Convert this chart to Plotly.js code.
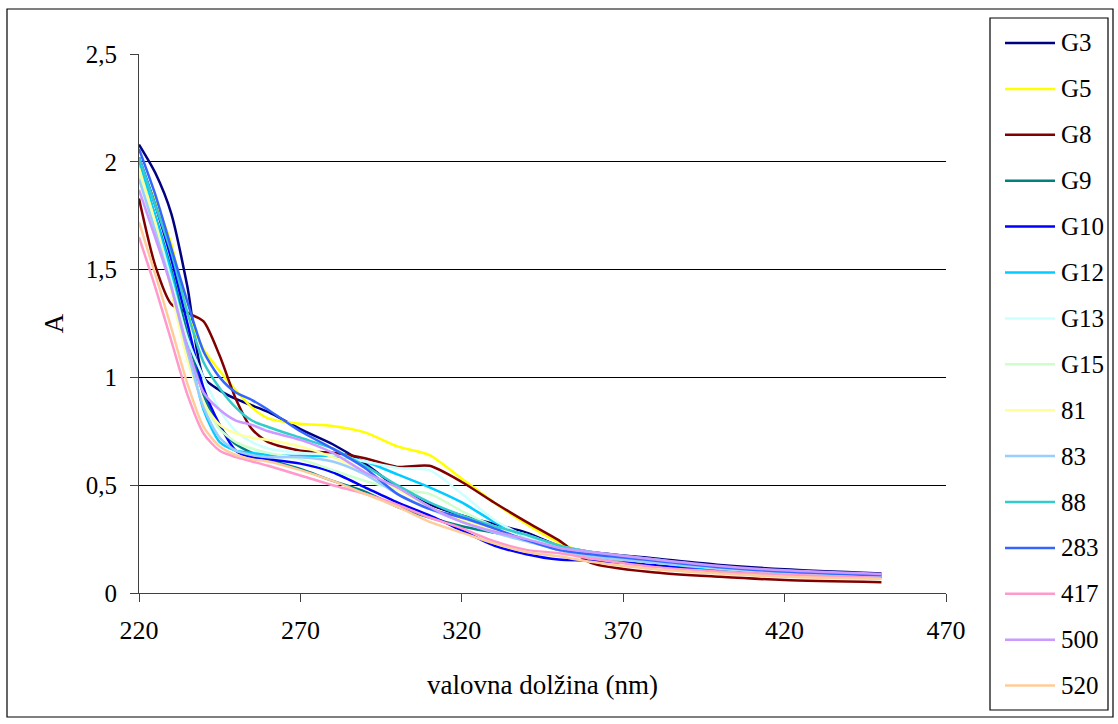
<!DOCTYPE html>
<html>
<head>
<meta charset="utf-8">
<script src="https://cdn.plot.ly/plotly-3.0.1.min.js"></script>
<style>
  html, body { margin: 0; padding: 0; background: #ffffff; }
  #chart { width: 1118px; height: 724px; }
</style>
</head>
<body>
<div id="chart"></div>
<script>
// Absorption spectra A(λ), 220–450 nm
const wavelength = [220, 225, 230, 235, 240, 245, 250, 255, 260, 270, 280, 290, 300, 310, 320, 330, 340, 350, 360, 380, 400, 420, 450];

const sampleNames = ["G3", "G5", "G8", "G9", "G10", "G12", "G13", "G15", "81", "83", "88", "283", "417", "500", "520"];
const sampleColors = ["#000080", "#FFFF00", "#800000", "#008080", "#0000FF", "#00CCFF", "#CCFFFF", "#CCFFCC", "#FFFF99", "#99CCFF", "#33CCCC", "#3366FF", "#FF99CC", "#CC99FF", "#FFCC99"];

const G3   = [2.08, 1.95, 1.76, 1.42, 1.00, 0.94, 0.90, 0.87, 0.84, 0.76, 0.69, 0.60, 0.49, 0.41, 0.36, 0.32, 0.28, 0.22, 0.19, 0.16, 0.13, 0.11, 0.09];
const G5   = [1.99, 1.82, 1.62, 1.30, 1.13, 1.03, 0.94, 0.86, 0.81, 0.785, 0.775, 0.745, 0.68, 0.64, 0.53, 0.42, 0.32, 0.235, 0.18, 0.14, 0.11, 0.09, 0.075];
const G8   = [1.83, 1.52, 1.34, 1.30, 1.26, 1.10, 0.90, 0.76, 0.70, 0.66, 0.65, 0.625, 0.585, 0.59, 0.515, 0.42, 0.33, 0.245, 0.14, 0.095, 0.075, 0.06, 0.05];
const G9   = [1.96, 1.75, 1.50, 1.20, 0.92, 0.77, 0.69, 0.65, 0.62, 0.575, 0.52, 0.47, 0.40, 0.35, 0.31, 0.28, 0.25, 0.20, 0.17, 0.135, 0.11, 0.09, 0.075];
const G10  = [2.02, 1.80, 1.55, 1.25, 0.95, 0.78, 0.66, 0.63, 0.62, 0.60, 0.56, 0.49, 0.42, 0.36, 0.29, 0.22, 0.18, 0.155, 0.15, 0.13, 0.10, 0.09, 0.075];
const G12  = [2.01, 1.75, 1.48, 1.15, 0.85, 0.70, 0.66, 0.65, 0.64, 0.635, 0.635, 0.61, 0.55, 0.49, 0.42, 0.33, 0.26, 0.21, 0.18, 0.14, 0.11, 0.095, 0.08];
const G13  = [1.95, 1.72, 1.45, 1.18, 1.00, 0.85, 0.75, 0.70, 0.67, 0.65, 0.64, 0.61, 0.58, 0.57, 0.46, 0.34, 0.26, 0.21, 0.18, 0.145, 0.115, 0.095, 0.08];
const G15  = [1.93, 1.70, 1.42, 1.10, 0.88, 0.76, 0.70, 0.67, 0.65, 0.62, 0.57, 0.52, 0.48, 0.46, 0.38, 0.31, 0.27, 0.22, 0.19, 0.15, 0.12, 0.10, 0.085];
const S81  = [1.97, 1.72, 1.40, 1.08, 0.88, 0.78, 0.74, 0.72, 0.71, 0.68, 0.63, 0.56, 0.48, 0.40, 0.34, 0.29, 0.25, 0.20, 0.17, 0.14, 0.115, 0.095, 0.08];
const S83  = [1.92, 1.68, 1.42, 1.12, 0.86, 0.72, 0.66, 0.64, 0.63, 0.63, 0.61, 0.55, 0.46, 0.39, 0.33, 0.28, 0.24, 0.20, 0.17, 0.14, 0.115, 0.095, 0.08];
const S88  = [2.02, 1.80, 1.58, 1.30, 1.07, 0.95, 0.86, 0.80, 0.77, 0.72, 0.67, 0.59, 0.50, 0.42, 0.36, 0.31, 0.27, 0.22, 0.19, 0.155, 0.12, 0.10, 0.085];
const S283 = [2.06, 1.85, 1.60, 1.35, 1.12, 1.00, 0.93, 0.895, 0.85, 0.75, 0.67, 0.58, 0.46, 0.39, 0.35, 0.30, 0.245, 0.20, 0.18, 0.15, 0.12, 0.10, 0.082];
const S417 = [1.65, 1.42, 1.17, 0.92, 0.74, 0.66, 0.63, 0.61, 0.59, 0.545, 0.50, 0.46, 0.41, 0.35, 0.30, 0.24, 0.20, 0.185, 0.16, 0.12, 0.10, 0.085, 0.07];
const S500 = [1.87, 1.65, 1.42, 1.14, 0.93, 0.85, 0.80, 0.78, 0.75, 0.71, 0.65, 0.56, 0.49, 0.40, 0.33, 0.285, 0.25, 0.21, 0.19, 0.155, 0.125, 0.105, 0.088];
const S520 = [1.72, 1.48, 1.23, 0.97, 0.77, 0.68, 0.64, 0.62, 0.61, 0.57, 0.52, 0.46, 0.40, 0.33, 0.28, 0.23, 0.19, 0.17, 0.145, 0.11, 0.09, 0.075, 0.065];

const sampleValues = [G3, G5, G8, G9, G10, G12, G13, G15, S81, S83, S88, S283, S417, S500, S520];

const xTicks = [220, 270, 320, 370, 420, 470];
const yTicks = [0, 0.5, 1, 1.5, 2, 2.5];

// Plot-area geometry in pixels (used for the legend box and frame)
const W = 1118, H = 724;
const M = { l: 139, r: 172, t: 54, b: 131 };
const plotW = W - M.l - M.r, plotH = H - M.t - M.b;
const px = v => (v - M.l) / plotW;
const py = v => (H - M.b - v) / plotH;

const FONT = "'Liberation Serif', 'DejaVu Serif', serif";

const traces = sampleNames.map((name, i) => ({
  x: wavelength,
  y: sampleValues[i],
  name: name,
  type: "scatter",
  mode: "lines",
  line: { color: sampleColors[i], width: 2.5, shape: "spline", smoothing: 0.7 },
  showlegend: false,
  hoverinfo: "x+y+name"
}));

// Legend drawn as shapes + annotations
const shapes = [
  // outer frame
  { type: "rect", xref: "paper", yref: "paper", x0: px(7), x1: px(1113), y0: py(717), y1: py(9),
    line: { color: "#000000", width: 1.2 }, fillcolor: "rgba(0,0,0,0)", layer: "below" },
  // legend box
  { type: "rect", xref: "paper", yref: "paper", x0: px(990), x1: px(1108), y0: py(710), y1: py(18),
    line: { color: "#000000", width: 1.2 }, fillcolor: "#ffffff" }
];
const annotations = [];
const legTop = 43, legStep = 45.9;
sampleNames.forEach((name, i) => {
  const yy = legTop + legStep * i;
  shapes.push({ type: "line", xref: "paper", yref: "paper", x0: px(1005), x1: px(1055), y0: py(yy), y1: py(yy),
    line: { color: sampleColors[i], width: 2.5 } });
  annotations.push({ xref: "paper", yref: "paper", x: px(1059), y: py(yy), text: name, showarrow: false,
    xanchor: "left", yanchor: "middle", font: { family: FONT, size: 25, color: "#000000" } });
});

const layout = {
  width: W, height: H,
  margin: M,
  paper_bgcolor: "#ffffff",
  plot_bgcolor: "#ffffff",
  separators: ", ",
  font: { family: FONT, size: 25, color: "#000000" },
  showlegend: false,
  xaxis: {
    range: [220, 470],
    tickvals: xTicks,
    ticks: "outside", ticklen: 8, tickcolor: "#404040", tickwidth: 1,
    ticklabelstandoff: 6,
    showline: true, linecolor: "#404040", linewidth: 1,
    showgrid: false, zeroline: false,
    tickfont: { family: FONT, size: 26, color: "#000000" },
    title: { text: "valovna dolžina (nm)", font: { family: FONT, size: 27, color: "#000000" }, standoff: 30 }
  },
  yaxis: {
    range: [0, 2.5],
    tickvals: yTicks,
    ticks: "outside", ticklen: 8, tickcolor: "#404040", tickwidth: 1,
    ticklabelstandoff: 8,
    showline: true, linecolor: "#404040", linewidth: 1,
    showgrid: true, gridcolor: "#000000", gridwidth: 1,
    zeroline: false,
    tickfont: { family: FONT, size: 25, color: "#000000" },
    title: { text: "A", font: { family: FONT, size: 27, color: "#000000" }, standoff: 14 }
  },
  shapes: shapes,
  annotations: annotations
};

Plotly.newPlot("chart", traces, layout, { displayModeBar: false, staticPlot: true });
</script>
</body>
</html>
